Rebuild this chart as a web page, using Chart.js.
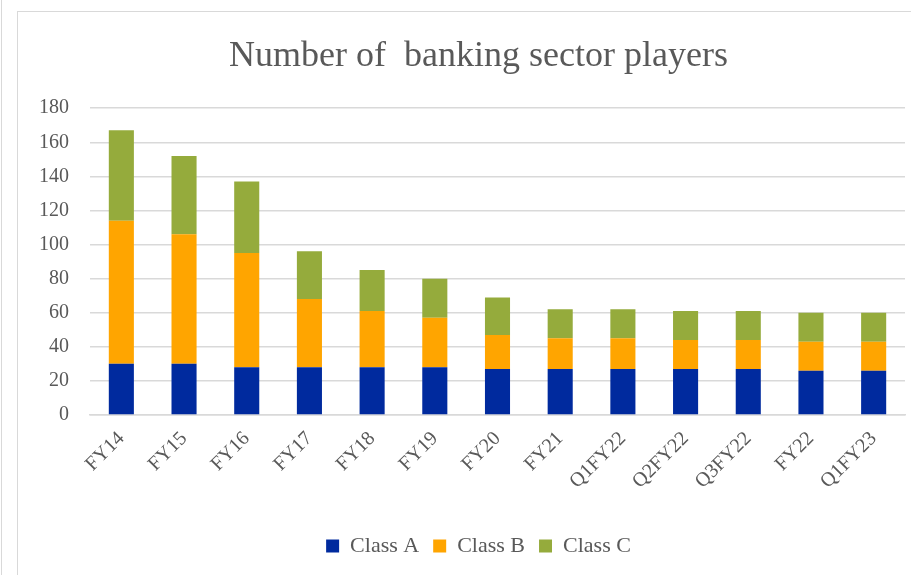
<!DOCTYPE html>
<html>
<head>
<meta charset="utf-8">
<title>Number of banking sector players</title>
<script src="https://cdn.jsdelivr.net/npm/chart.js@4.4.0/dist/chart.umd.min.js"></script>
<style>
  html, body { margin: 0; padding: 0; background: #fff; }
  body { width: 911px; height: 575px; position: relative; overflow: hidden; }
  .regua { position: absolute; left: 1px; top: 0; width: 1px; height: 575px; background: #d9d9d9; }
  .quadro {
    position: absolute; left: 17px; top: 11px; width: 893px; height: 563px;
    border-left: 1px solid #d9d9d9; border-top: 1px solid #d9d9d9;
  }
</style>
</head>
<body>
<div class="regua"></div>
<div class="quadro"><canvas id="grafico"></canvas></div>
<script>
// Dados do gráfico
const periodos = ["FY14", "FY15", "FY16", "FY17", "FY18", "FY19", "FY20", "FY21",
                  "Q1FY22", "Q2FY22", "Q3FY22", "FY22", "Q1FY23"];
const classeA = [30, 30, 28, 28, 28, 28, 27, 27, 27, 27, 27, 26, 26];
const classeB = [84, 76, 67, 40, 33, 29, 20, 18, 18, 17, 17, 17, 17];
const classeC = [53, 46, 42, 28, 24, 23, 22, 17, 17, 17, 17, 17, 17];
const ticksY = [0, 20, 40, 60, 80, 100, 120, 140, 160, 180];

const fonte = "'Liberation Serif', 'DejaVu Serif', serif";
const cinza = '#595959';

function serie(nome, valores, cor) {
  return {
    label: nome,
    data: valores,
    backgroundColor: cor,
    borderWidth: 0,
    barPercentage: 0.4,
    categoryPercentage: 1.0
  };
}

// desloca título e legenda um pouco para a direita
const deslocamento = {
  id: 'deslocamento',
  afterLayout(chart) {
    if (chart.titleBlock) chart.titleBlock.left += 34;
    if (chart.legend) chart.legend.left += 34;
  }
};

const config = {
  type: 'bar',
  data: {
    labels: periodos,
    datasets: [
      serie('Class A', classeA, '#002a9e'),
      serie('Class B', classeB, '#ffa500'),
      serie('Class C', classeC, '#95ab3c')
    ]
  },
  options: {
    responsive: true,
    maintainAspectRatio: false,
    animation: false,
    layout: { padding: { left: 0, right: 6, top: 23, bottom: 8 } },
    plugins: {
      title: {
        display: true,
        text: 'Number of  banking sector players',
        color: cinza,
        font: { family: fonte, size: 36, weight: 'normal' },
        padding: { top: 0, bottom: 30 }
      },
      legend: {
        position: 'bottom',
        labels: {
          color: cinza,
          font: { family: fonte, size: 22 },
          boxWidth: 13,
          boxHeight: 13,
          padding: 14
        }
      },
      tooltip: { enabled: false }
    },
    scales: {
      x: {
        stacked: true,
        grid: { display: false },
        border: { color: '#d9d9d9', width: 1.5 },
        ticks: {
          color: cinza,
          font: { family: fonte, size: 20 },
          maxRotation: 45,
          minRotation: 45,
          padding: 4
        },
        afterFit(escala) { escala.height = 106; }
      },
      y: {
        stacked: true,
        min: 0,
        max: 180,
        grid: { color: '#d9d9d9', lineWidth: 1.5, drawTicks: false },
        border: { display: false },
        afterBuildTicks(escala) { escala.ticks = ticksY.map(v => ({ value: v })); },
        ticks: {
          color: cinza,
          font: { family: fonte, size: 20 },
          padding: 21
        },
        afterFit(escala) { escala.width = 72; }
      }
    }
  },
  plugins: [deslocamento]
};

new Chart(document.getElementById('grafico'), config);
</script>
</body>
</html>
